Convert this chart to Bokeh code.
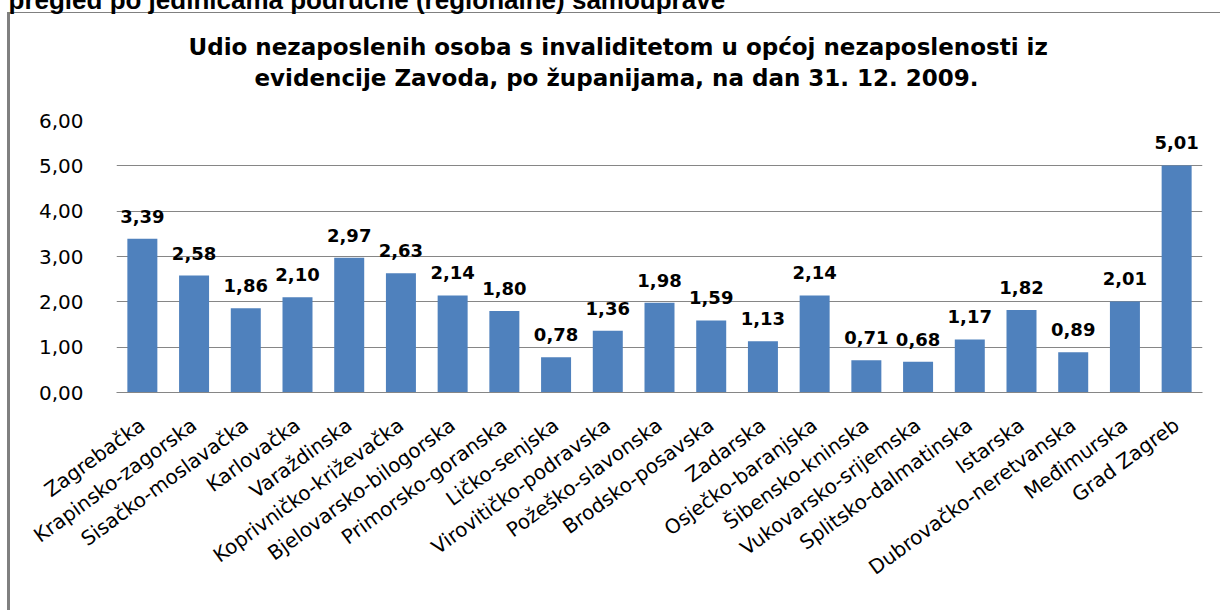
from bokeh.plotting import figure
from bokeh.models import (ColumnDataSource, FactorRange, FixedTicker, LabelSet, Title)
from bokeh.core.properties import value
from bokeh.embed import file_html
from bokeh.resources import INLINE

# ---------------- data ----------------
counties = ["Zagrebačka", "Krapinsko-zagorska", "Sisačko-moslavačka", "Karlovačka",
            "Varaždinska", "Koprivničko-križevačka", "Bjelovarsko-bilogorska",
            "Primorsko-goranska", "Ličko-senjska", "Virovitičko-podravska",
            "Požeško-slavonska", "Brodsko-posavska", "Zadarska", "Osječko-baranjska",
            "Šibensko-kninska", "Vukovarsko-srijemska", "Splitsko-dalmatinska",
            "Istarska", "Dubrovačko-neretvanska", "Međimurska", "Grad Zagreb"]
shares = [3.39, 2.58, 1.86, 2.10, 2.97, 2.63, 2.14, 1.80, 0.78, 1.36, 1.98,
          1.59, 1.13, 2.14, 0.71, 0.68, 1.17, 1.82, 0.89, 2.01, 5.01]
y_ticks = [0, 1, 2, 3, 4, 5, 6]
y_tick_labels = ["0,00", "1,00", "2,00", "3,00", "4,00", "5,00", "6,00"]
title_lines = ["Udio nezaposlenih osoba s invaliditetom u općoj nezaposlenosti iz",
               "evidencije Zavoda, po županijama, na dan 31. 12. 2009."]
header_text = "pregled po jedinicama područne (regionalne) samouprave"

# ---------------- layout ----------------
W, H = 1220, 610
D = 34                                  # hidden strip above the window
FL, FR, FB = 116, 1202, 392             # frame edges (window px)

src = ColumnDataSource(dict(
    cat=counties, val=shares,
    lbl=[f"{v:.2f}".replace(".", ",") for v in shares]))

p = figure(width=W, height=H + D, x_range=FactorRange(factors=counties),
           y_range=(y_ticks[0], y_ticks[-1]), output_backend="svg",
           toolbar_location=None,
           min_border_left=FL, min_border_right=W - FR,
           min_border_top=0, min_border_bottom=H - FB,
           margin=(-D, 0, 0, 0))
p.background_fill_color = None
p.border_fill_color = None
p.outline_line_color = None
# chart-box border lines (gray) drawn behind the transparent canvas
p.styles = {
    "background": (f"linear-gradient(#808080,#808080) 7px {12 + D}px / 1213px 1px no-repeat, "
                   f"linear-gradient(#808080,#808080) 7px {12 + D}px / 3px {H - 12}px no-repeat, "
                   "white"),
}

p.vbar(x="cat", top="val", width=0.58, source=src, fill_color="#4F81BD",
       line_color=None)

p.add_layout(LabelSet(x="cat", y="val", text="lbl", source=src, y_offset=16,
                      text_align="center", text_baseline="alphabetic",
                      text_font=value("DejaVu Sans"), text_font_style="bold",
                      text_font_size="18px", text_color="black"))

# axes
p.xgrid.grid_line_color = None
p.ygrid.grid_line_color = "#868686"
p.ygrid.grid_line_width = 1
p.yaxis.ticker = FixedTicker(ticks=y_ticks)
p.yaxis.major_label_overrides = {t: l for t, l in zip(y_ticks, y_tick_labels)}
p.yaxis.axis_line_color = None
p.yaxis.major_tick_line_color = None
p.yaxis.minor_tick_line_color = None
p.yaxis.major_label_standoff = 27
p.yaxis.major_label_text_font = "DejaVu Sans"
p.yaxis.major_label_text_font_size = "20px"
p.yaxis.major_label_text_color = "black"

p.xaxis.axis_line_color = "#868686"
p.xaxis.axis_line_width = 1
p.xaxis.major_tick_line_color = None
p.xaxis.minor_tick_line_color = None
p.xaxis.major_label_orientation = 0.63
p.xaxis.major_label_standoff = 24
p.xaxis.major_label_text_font = "DejaVu Sans"
p.xaxis.major_label_text_font_size = "20px"
p.xaxis.major_label_text_color = "black"

# title block, stacked upward from the frame
p.add_layout(Title(text=" ", text_font_size="1px", standoff=24), "above")       # spacer
p.add_layout(Title(text=title_lines[1], align="left", offset=138, standoff=6,
                   text_font="DejaVu Sans", text_font_style="bold",
                   text_font_size="23px", text_color="black"), "above")
p.add_layout(Title(text=title_lines[0], align="left", offset=72, standoff=0,
                   text_font="DejaVu Sans", text_font_style="bold",
                   text_font_size="23px", text_color="black"), "above")
p.add_layout(Title(text=header_text, align="left", offset=8 - FL, standoff=33,
                   text_font="Liberation Sans", text_font_style="bold",
                   text_font_size="26px", text_color="black"), "above")

open("out.html", "w").write(file_html(p, INLINE))
